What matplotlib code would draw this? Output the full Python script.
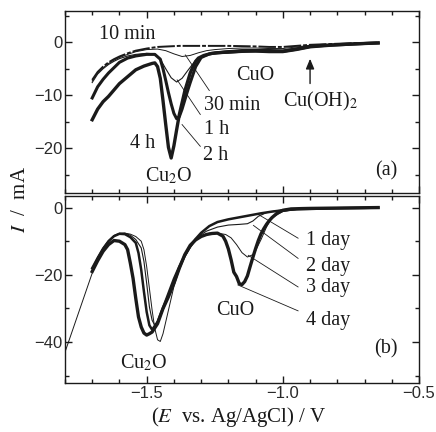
import matplotlib
matplotlib.use("Agg")
import matplotlib.pyplot as plt
from matplotlib.ticker import MultipleLocator

plt.rcParams['mathtext.fontset'] = 'stix'
plt.rcParams['font.family'] = ['Liberation Serif', 'DejaVu Serif']

# ---------------- data: panel (a) ----------------
a10_x = [-1.70, -1.68, -1.66, -1.64, -1.62, -1.60, -1.57, -1.54, -1.50, -1.46, -1.42, -1.38, -1.34, -1.30,
         -1.25, -1.20, -1.15, -1.10, -1.05, -1.00, -0.95, -0.90, -0.85, -0.80, -0.75, -0.70, -0.65]
a10_y = [-7.1, -5.6, -4.6, -3.8, -3.2, -2.7, -2.1, -1.6, -1.2, -0.9, -0.8, -0.7, -0.7, -0.7,
         -0.7, -0.7, -0.75, -0.8, -0.9, -0.9, -0.7, -0.5, -0.4, -0.3, -0.2, -0.15, -0.1]

a30_x = [-1.70, -1.68, -1.66, -1.64, -1.62, -1.60, -1.57, -1.54, -1.50, -1.46, -1.43, -1.40, -1.37, -1.34,
         -1.31, -1.28, -1.25, -1.20, -1.15, -1.10, -1.05, -1.00, -0.95, -0.90, -0.85, -0.80, -0.75, -0.70, -0.65]
a30_y = [-7.3, -5.8, -4.8, -4.0, -3.4, -2.9, -2.3, -1.8, -1.4, -1.3, -1.6, -2.2, -2.7, -2.5,
         -2.0, -1.6, -1.4, -1.2, -1.1, -1.1, -1.2, -1.2, -0.9, -0.6, -0.5, -0.35, -0.25, -0.15, -0.1]

a1h_x = [-1.70, -1.68, -1.66, -1.64, -1.62, -1.60, -1.57, -1.54, -1.50, -1.47, -1.45, -1.43, -1.41, -1.39,
         -1.37, -1.35, -1.32, -1.29, -1.25, -1.20, -1.15, -1.10, -1.05, -1.00, -0.95, -0.90, -0.85, -0.80,
         -0.75, -0.70, -0.65]
a1h_y = [-7.6, -6.0, -5.0, -4.2, -3.6, -3.1, -2.6, -2.3, -2.1, -2.2, -3.2, -5.0, -6.7, -7.5,
         -6.8, -5.4, -3.4, -2.4, -1.9, -1.6, -1.4, -1.4, -1.5, -1.5, -1.1, -0.7, -0.5, -0.4,
         -0.3, -0.2, -0.1]

a2h_x = [-1.70, -1.68, -1.66, -1.64, -1.62, -1.60, -1.57, -1.54, -1.50, -1.47, -1.45, -1.44, -1.43, -1.42,
         -1.41, -1.40, -1.39, -1.38, -1.37, -1.36, -1.35, -1.34, -1.33, -1.32, -1.30, -1.27, -1.24, -1.20,
         -1.15, -1.10, -1.05, -1.00, -0.95, -0.90, -0.85, -0.80, -0.75, -0.70, -0.65]
a2h_y = [-10.5, -8.4, -7.0, -5.8, -4.8, -3.8, -3.0, -2.6, -2.3, -2.3, -3.2, -5.0, -7.2, -9.5,
         -11.6, -13.4, -14.4, -14.0, -12.6, -10.9, -9.2, -7.6, -6.1, -4.6, -2.9, -2.2, -2.0, -1.9,
         -1.7, -1.7, -1.8, -1.8, -1.4, -0.9, -0.7, -0.5, -0.4, -0.25, -0.15]

a4h_x = [-1.70, -1.68, -1.66, -1.64, -1.62, -1.60, -1.57, -1.54, -1.51, -1.48, -1.47, -1.46, -1.45, -1.44,
         -1.43, -1.42, -1.41, -1.40, -1.39, -1.38, -1.37, -1.36, -1.35, -1.34, -1.33, -1.32, -1.31, -1.29,
         -1.26, -1.22, -1.18, -1.14, -1.10, -1.05, -1.00, -0.95, -0.90, -0.85, -0.80, -0.75, -0.70, -0.65]
a4h_y = [-14.6, -12.6, -11.2, -10.2, -9.0, -7.8, -6.5, -5.2, -4.5, -4.0, -3.9, -4.6, -6.8, -11.0,
         -15.5, -19.8, -21.8, -19.5, -16.5, -13.6, -11.4, -9.2, -7.5, -5.8, -4.6, -3.6, -3.0, -2.5,
         -2.1, -1.9, -1.8, -1.7, -1.6, -1.6, -1.7, -1.3, -0.8, -0.6, -0.5, -0.35, -0.25, -0.15]

# ---------------- data: panel (b) ----------------
b1_x = [-1.70, -1.68, -1.66, -1.64, -1.62, -1.60, -1.58, -1.56, -1.54, -1.53, -1.52, -1.51, -1.50, -1.49,
        -1.48, -1.46, -1.44, -1.42, -1.40, -1.38, -1.36, -1.34, -1.32, -1.30, -1.27, -1.24, -1.20, -1.16,
        -1.12, -1.08, -1.04, -1.00, -0.95, -0.90, -0.85, -0.80, -0.75, -0.70, -0.65]
b1_y = [-18.0, -15.0, -12.2, -10.0, -8.5, -7.8, -7.9, -8.8, -10.5, -13.5, -18.5, -25.0, -31.0, -35.0,
        -36.3, -34.0, -29.8, -25.5, -21.2, -17.5, -14.2, -11.5, -9.3, -7.5, -5.5, -4.3, -3.5, -2.9,
        -2.3, -1.7, -1.2, -0.8, -0.5, -0.4, -0.3, -0.2, -0.15, -0.1, 0.0]

b2_x = [-1.70, -1.68, -1.66, -1.64, -1.62, -1.60, -1.58, -1.56, -1.54, -1.52, -1.51, -1.50, -1.49, -1.48,
        -1.47, -1.45, -1.43, -1.41, -1.39, -1.37, -1.35, -1.33, -1.31, -1.28, -1.24, -1.20, -1.16, -1.13,
        -1.11, -1.09, -1.06, -1.02, -0.98, -0.95, -0.90, -0.85, -0.80, -0.75, -0.70, -0.65]
b2_y = [-18.0, -14.8, -12.0, -9.8, -8.3, -7.6, -7.6, -8.2, -9.5, -12.0, -16.0, -22.5, -29.5, -33.5,
        -35.0, -32.5, -28.5, -24.0, -19.8, -16.0, -12.8, -10.3, -8.6, -7.0, -5.8, -5.2, -5.0, -4.8,
        -4.0, -2.6, -1.5, -0.9, -0.6, -0.5, -0.4, -0.3, -0.2, -0.15, -0.1, 0.0]

b3_x = [-1.80, -1.70, -1.68, -1.66, -1.64, -1.62, -1.60, -1.58, -1.56, -1.54, -1.52, -1.51, -1.50, -1.49,
        -1.48, -1.47, -1.46, -1.45, -1.44, -1.42, -1.40, -1.38, -1.36, -1.34, -1.32, -1.30, -1.27, -1.24,
        -1.21, -1.19, -1.17, -1.15, -1.13, -1.11, -1.10, -1.08, -1.06, -1.04, -1.00, -0.95, -0.90, -0.85,
        -0.80, -0.75, -0.70, -0.65]
b3_y = [-43.0, -19.5, -15.0, -12.2, -10.0, -8.5, -7.8, -7.6, -7.9, -8.6, -10.0, -12.5, -17.5, -24.0,
        -30.5, -36.0, -39.3, -39.8, -37.5, -30.5, -23.5, -18.5, -14.8, -12.0, -9.8, -8.4, -7.6, -7.6,
        -8.0, -9.0, -11.0, -13.4, -14.7, -14.0, -12.8, -9.5, -5.8, -3.0, -1.2, -0.6, -0.4, -0.3,
        -0.2, -0.15, -0.1, 0.0]

b4_x = [-1.70, -1.68, -1.66, -1.64, -1.62, -1.60, -1.58, -1.57, -1.56, -1.55, -1.54, -1.53, -1.52, -1.51,
        -1.50, -1.49, -1.48, -1.46, -1.44, -1.42, -1.40, -1.38, -1.36, -1.34, -1.32, -1.30, -1.28, -1.26,
        -1.24, -1.22, -1.21, -1.20, -1.19, -1.18, -1.17, -1.16, -1.15, -1.14, -1.13, -1.12, -1.11, -1.10,
        -1.09, -1.08, -1.07, -1.06, -1.05, -1.04, -1.02, -1.00, -0.97, -0.93, -0.90, -0.85, -0.80, -0.75,
        -0.70, -0.65]
b4_y = [-19.0, -15.8, -13.0, -11.0, -9.8, -10.0, -11.0, -12.5, -16.5, -21.0, -27.0, -32.5, -35.5, -37.3,
        -37.9, -37.5, -37.0, -34.5, -30.0, -26.5, -22.5, -18.0, -14.0, -11.2, -9.6, -8.6, -8.0, -7.7,
        -7.6, -8.5, -10.0, -12.3, -15.5, -19.2, -20.5, -22.6, -22.9, -22.0, -20.3, -17.5, -14.8, -12.2,
        -9.8, -7.8, -6.3, -5.0, -3.9, -3.0, -1.6, -0.8, -0.4, -0.3, -0.25, -0.2, -0.15, -0.1,
        -0.05, 0.0]

# ---------------- labels ----------------
labels_a = ["10 min", "30 min", "1 h", "2 h", "4 h"]
labels_b = ["1 day", "2 day", "3 day", "4 day"]
xticks = [-1.5, -1.0, -0.5]
yticks_a = [0, -10, -20]
yticks_b = [0, -20, -40]

fig = plt.figure(figsize=(4.36, 4.32), dpi=100)
ax1 = fig.add_axes([0.149, 0.553, 0.812, 0.422])
ax2 = fig.add_axes([0.149, 0.113, 0.812, 0.433])

ink = '#1a1a1a'
ax1.plot(a10_x, a10_y, color=ink, lw=1.4, ls=(0, (9, 1.0, 2, 1.0)))
ax1.plot(a30_x, a30_y, color=ink, lw=0.7)
ax1.plot(a1h_x, a1h_y, color=ink, lw=0.8)
ax1.plot(a2h_x, a2h_y, color=ink, lw=2.2)
ax1.plot(a4h_x, a4h_y, color=ink, lw=2.4)

ax2.plot(b1_x, b1_y, color=ink, lw=1.8)
ax2.plot(b2_x, b2_y, color=ink, lw=0.8)
ax2.plot(b3_x, b3_y, color=ink, lw=0.7)
ax2.plot(b4_x, b4_y, color=ink, lw=2.4)

# leader lines (annotation guides)
lead_a = [((-1.27, -9.1), (-1.358, -2.4)),
          ((-1.303, -13.6), (-1.388, -7.1)),
          ((-1.303, -19.6), (-1.37, -15.5))]
for (x0, y0), (x1, y1) in lead_a:
    ax1.plot([x0, x1], [y0, y1], color=ink, lw=0.6)
lead_b = [((-0.944, -9.1), (-1.095, -1.8)),
          ((-0.944, -15.1), (-1.108, -5.3)),
          ((-0.944, -23.6), (-1.127, -14.2)),
          ((-0.944, -30.7), (-1.165, -23.0))]
for (x0, y0), (x1, y1) in lead_b:
    ax2.plot([x0, x1], [y0, y1], color=ink, lw=0.6)

fs = 14.5
tk = dict(fontsize=fs, ha='center', va='center', color=ink)
ax1.text(-1.57, 1.4, labels_a[0], **tk)
ax1.text(-1.186, -11.9, labels_a[1], **tk)
ax1.text(-1.242, -16.5, labels_a[2], **tk)
ax1.text(-1.245, -21.3, labels_a[3], **tk)
ax1.text(-1.515, -19.0, labels_a[4], **tk)
ax1.text(-1.102, -6.3, "CuO", **tk)
ax1.text(-0.862, -11.2, "Cu(OH)$_2$", **tk)
ax1.text(-1.419, -25.2, "Cu$_2$O", **tk)
ax1.text(-0.622, -24.3, "(a)", **tk)
ax1.annotate("", xy=(-0.90, -2.6), xytext=(-0.90, -8.3),
             arrowprops=dict(arrowstyle='-|>,head_width=0.25,head_length=0.6', color=ink, lw=1.0))

ax2.text(-0.835, -9.9, labels_b[0], **tk)
ax2.text(-0.835, -17.4, labels_b[1], **tk)
ax2.text(-0.835, -23.8, labels_b[2], **tk)
ax2.text(-0.835, -33.7, labels_b[3], **tk)
ax2.text(-1.175, -30.7, "CuO", **tk)
ax2.text(-1.51, -46.2, "Cu$_2$O", **tk)
ax2.text(-0.622, -42.1, "(b)", **tk)

for ax in (ax1, ax2):
    ax.set_xlim(-1.8, -0.5)
    ax.xaxis.set_major_locator(MultipleLocator(0.5))
    ax.xaxis.set_minor_locator(MultipleLocator(0.1))
    ax.tick_params(which='both', direction='in', top=True, right=True, color=ink, width=1.0, pad=2)
    ax.tick_params(which='major', length=5)
    ax.tick_params(which='minor', length=3)
    for s in ax.spines.values():
        s.set_linewidth(1.0)
        s.set_color(ink)

ax1.set_ylim(-28.4, 5.9)
ax1.set_yticks(yticks_a)
ax1.yaxis.set_minor_locator(MultipleLocator(5))
ax1.tick_params(labelbottom=False)

ax2.set_ylim(-52.2, 3.4)
ax2.set_yticks(yticks_b)
ax2.yaxis.set_minor_locator(MultipleLocator(10))
ax2.set_xticks(xticks)
ax2.set_xticklabels(["\u22121.5", "\u22121.0", "\u22120.5"])
for ax in (ax1, ax2):
    for lab in ax.get_xticklabels() + ax.get_yticklabels():
        lab.set_fontfamily('Liberation Sans')
        lab.set_fontsize(12)
        lab.set_color('#2a2a2a')

fig.text(0.046, 0.537, "$I$  /  mA", rotation=90, ha='center', va='center', fontsize=15, color=ink)
fig.text(0.547, 0.035, "($E$  vs. Ag/AgCl) / V", ha='center', va='center', fontsize=15, color=ink)

fig.savefig("out.png", dpi=100)
